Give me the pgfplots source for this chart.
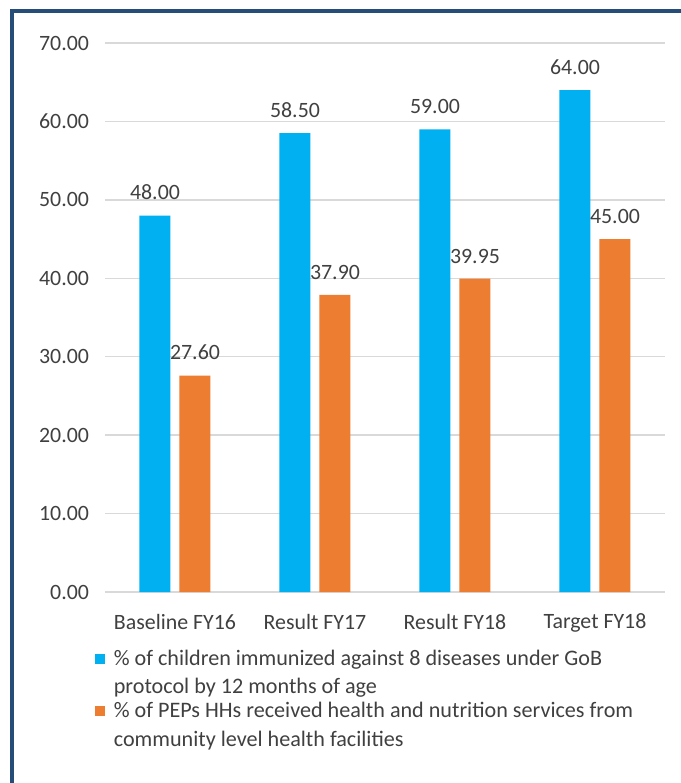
\documentclass[border=0pt]{standalone}
\usepackage{fontspec}
\setmainfont{Carlito}
\usepackage{pgfplots}
\pgfplotsset{compat=1.18}
\definecolor{immblue}{RGB}{0,176,240}
\definecolor{svcorange}{RGB}{237,125,49}
\definecolor{gridgray}{RGB}{217,217,217}
\definecolor{framenavy}{RGB}{38,76,120}
\definecolor{labelgray}{RGB}{64,64,64}

\pgfplotstableread{
x immunized services
0 48.00 27.60
1 58.50 37.90
2 59.00 39.95
3 64.00 45.00
}\resultsdata

\begin{document}
\begin{tikzpicture}
\useasboundingbox (0,0) rectangle (510.75pt,587.25pt);
% panel frame (left and top edges)
\draw[framenavy, line width=2.6pt] (9pt,-10pt) -- (9pt,579pt) -- (530pt,579pt);
\begin{axis}[
  at={(78.75pt,143.25pt)}, anchor=south west,
  scale only axis, width=420pt, height=411.75pt,
  xmin=-0.5, xmax=3.5, ymin=0, ymax=70,
  xtick={0,1,2,3},
  xticklabels={Baseline FY16, Result FY17, Result FY18, Target FY18},
  ytick={0,10,...,70},
  scaled y ticks=false,
  /pgf/number format/fixed,
  /pgf/number format/fixed zerofill,
  /pgf/number format/precision=2,
  /pgf/number format/assume math mode=true,
  ymajorgrids, grid style={gridgray, line width=1pt},
  axis line style={draw=none},
  major tick length=0pt,
  ticklabel style={font=\fontsize{16.4}{20}\selectfont, text=labelgray},
  yticklabel style={xshift=-8.5pt},
  xticklabel style={yshift=-13pt},
  ybar=6.75pt, bar width=23.25pt,
  nodes near coords,
  every node near coord/.append style={font=\fontsize{16.4}{20}\selectfont, text=labelgray, yshift=8pt},
  legend style={at={(axis description cs:-0.018,-0.1)}, anchor=north west,
    draw=none, fill=none, font=\fontsize{16.6}{21.3}\selectfont, text=labelgray,
    cells={anchor=west, align=left}, row sep=1pt, inner sep=0pt},
]
\addplot[fill=immblue, draw=none,
  legend image code/.code={\fill[immblue] (1.5pt,6.6pt) rectangle (9pt,14.1pt);
                           \path (13.5pt,10pt);}]
  table[x=x, y=immunized] {\resultsdata};
\addplot[fill=svcorange, draw=none,
  legend image code/.code={\fill[svcorange] (1.5pt,6.6pt) rectangle (9pt,14.1pt);
                           \path (13.5pt,10pt);}]
  table[x=x, y=services] {\resultsdata};
\legend{\% of children immunized against 8 diseases under GoB\\protocol by 12 months of age,
        \% of PEPs HHs received health and nutrition services from\\community level health facilities}
\end{axis}
\end{tikzpicture}
\end{document}
